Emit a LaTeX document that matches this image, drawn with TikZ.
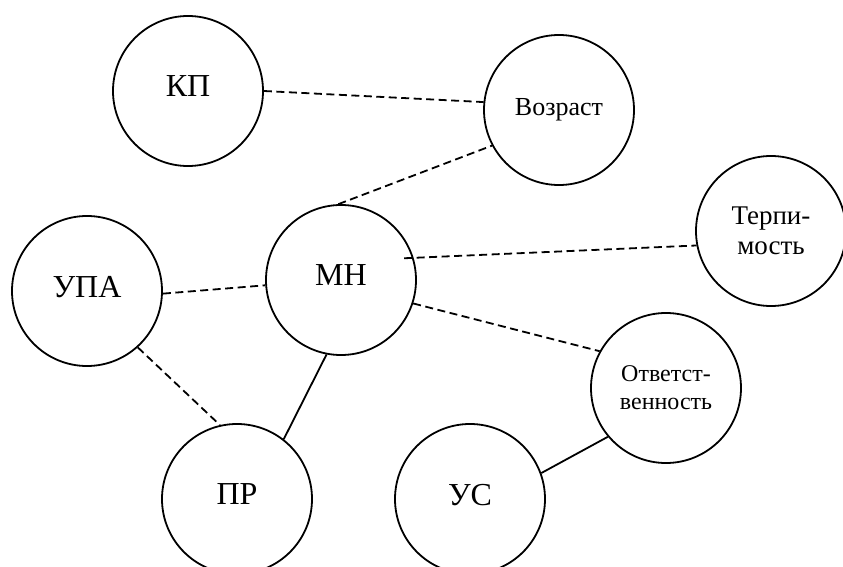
\documentclass[tikz,border=0pt]{standalone}
\usepackage{fontspec}
\setmainfont{Liberation Serif}
\usetikzlibrary{calc}
\begin{document}
\begin{tikzpicture}[x=1pt,y=-1pt,
  circ/.style={draw, circle, line width=1.8pt, minimum size=150pt, inner sep=0pt, align=center},
  big/.style={font=\fontsize{32}{38}\selectfont, text depth=9pt},
  mid/.style={font=\fontsize{26}{30}\selectfont},
  two/.style={font=\fontsize{27}{30}\selectfont},
  twosm/.style={font=\fontsize{24}{28}\selectfont},
  dashline/.style={line width=1.8pt, dash pattern=on 8pt off 4.5pt},
  solidline/.style={line width=1.8pt}]
\useasboundingbox (0,0) rectangle (843,567);
\node[circ, big] (kp) at (188,91) {КП};
\node[circ, mid] (voz) at (559,110) {Возраст};
\node[circ, two] (ter) at (771,231) {Терпи-\\мость};
\node[circ, big] (upa) at (87,291) {УПА};
\node[circ, big] (mn) at (341,280) {МН};
\node[circ, twosm] (otv) at (666,388) {Ответст-\\венность};
\node[circ, big] (pr) at (237,499) {ПР};
\node[circ, big] (us) at (470,499) {УС};
\coordinate (mnin) at ($(mn.center)!0.88!(mn.19.5)$);
\draw[dashline] (kp.0) -- (voz.174.7);
\draw[dashline] (mn.92) -- (voz.208.4);
\draw[dashline] (mnin) -- (ter.191.5);
\draw[dashline] (upa.-2.4) -- (mn.184.6);
\draw[dashline] (mn.-18.7) -- (otv.151.7);
\draw[dashline] (upa.-48.1) -- (pr.103.5);
\draw[solidline] (mn.259.3) -- (pr.52.9);
\draw[solidline] (us.20.9) -- (otv.220.5);
\end{tikzpicture}
\end{document}
